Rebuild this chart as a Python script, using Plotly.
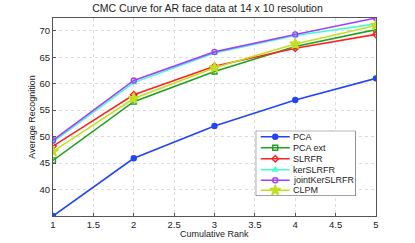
import plotly.graph_objects as go

ranks = [1, 2, 3, 4, 5]
pca = [35.0, 45.9, 52.0, 56.9, 61.0]
pca_ext = [45.5, 56.6, 62.3, 67.0, 70.2]
slrfr = [48.2, 57.9, 63.3, 66.7, 69.3]
ker_slrfr = [49.0, 60.2, 65.8, 69.1, 71.3]
joint_ker = [49.3, 60.6, 66.0, 69.3, 72.4]
clpm = [47.2, 57.2, 63.0, 67.5, 71.0]

x_ticks = [1, 1.5, 2, 2.5, 3, 3.5, 4, 4.5, 5]
y_ticks = [40, 45, 50, 55, 60, 65, 70]

series = [
    ("PCA", pca, "#2244ff", "circle"),
    ("PCA ext", pca_ext, "#22a022", "square-open"),
    ("SLRFR", slrfr, "#ff2222", "diamond-open"),
    ("kerSLRFR", ker_slrfr, "#44ffcc", "triangle-up-open"),
    ("jointKerSLRFR", joint_ker, "#a040ff", "circle-open"),
    ("CLPM", clpm, "#c0e020", "star"),
]

def msize(sym):
    return 8 if sym == "star" else 5

fig = go.Figure()
for name, vals, col, sym in series:
    fig.add_trace(go.Scatter(
        x=ranks, y=vals, name=name, mode="lines+markers", showlegend=False,
        line=dict(color=col, width=1.6),
        marker=dict(symbol=sym, size=msize(sym), color=col,
                    line=dict(color=col, width=1.4)),
    ))

# custom compact legend (MATLAB style) in its own small subplot, pixel-like units
leg_rows = [6, 17, 28, 39, 49.5, 59.5]
for (name, vals, col, sym), ry in zip(series, leg_rows):
    fig.add_trace(go.Scatter(
        x=[5, 34], y=[ry, ry], mode="lines", xaxis="x2", yaxis="y2",
        line=dict(color=col, width=1.6), showlegend=False, hoverinfo="skip"))
    fig.add_trace(go.Scatter(
        x=[19.5], y=[ry], mode="markers", xaxis="x2", yaxis="y2",
        marker=dict(symbol=sym, size=msize(sym), color=col,
                    line=dict(color=col, width=1.4)),
        showlegend=False, hoverinfo="skip"))
    fig.add_annotation(x=36.0, y=ry, xref="x2", yref="y2", text=name,
                       showarrow=False, xanchor="left", yanchor="middle",
                       borderpad=0, font=dict(size=9, color="#222"))

fig.add_shape(type="rect", xref="x2", yref="y2", x0=0, x1=100, y0=0, y1=65.3,
              line=dict(color="#444", width=1), fillcolor="white", layer="below")

# x-axis title placed close to the tick labels, as in the reference
fig.add_annotation(x=0.5, y=-0.09, xref="paper", yref="paper", text="Cumulative Rank",
                   showarrow=False, xanchor="center", yanchor="middle", borderpad=0,
                   font=dict(size=9, color="#222"))

axis_common = dict(showgrid=True, gridcolor="#dddddd", griddash="dot",
                   showline=True, linecolor="#555", mirror=True, ticks="inside",
                   ticklen=3, tickcolor="#555", zeroline=False, automargin=False,
                   tickfont=dict(size=9.5))

fig.update_layout(
    width=415, height=243,
    margin=dict(l=53, r=39, t=18, b=27, autoexpand=False),
    paper_bgcolor="white", plot_bgcolor="white",
    font=dict(family="Liberation Sans, Arial, sans-serif", size=9, color="#222"),
    title=dict(text="CMC Curve for AR face data at 14 x 10 resolution",
               x=0.5, xanchor="center", yref="container", y=0.966, yanchor="middle",
               automargin=False, font=dict(size=10.5, color="#222")),
    showlegend=False,
    xaxis=dict(range=[1, 5], tickvals=x_ticks,
               ticktext=[str(v) if v % 1 else str(int(v)) for v in x_ticks],
               **axis_common),
    yaxis=dict(range=[35, 72.4], tickvals=y_ticks,
               title=dict(text="Average Recognition", standoff=2, font=dict(size=9)),
               **axis_common),
    xaxis2=dict(domain=[0.6276, 0.9372], range=[0, 100], anchor="y2",
                visible=False, fixedrange=True),
    yaxis2=dict(domain=[0.101, 0.4308], range=[65.3, 0], anchor="x2",
                visible=False, fixedrange=True),
)

fig.write_html("out.html", config={"displayModeBar": False},
               post_script="document.body.style.margin='0';document.body.style.overflow='hidden';")
